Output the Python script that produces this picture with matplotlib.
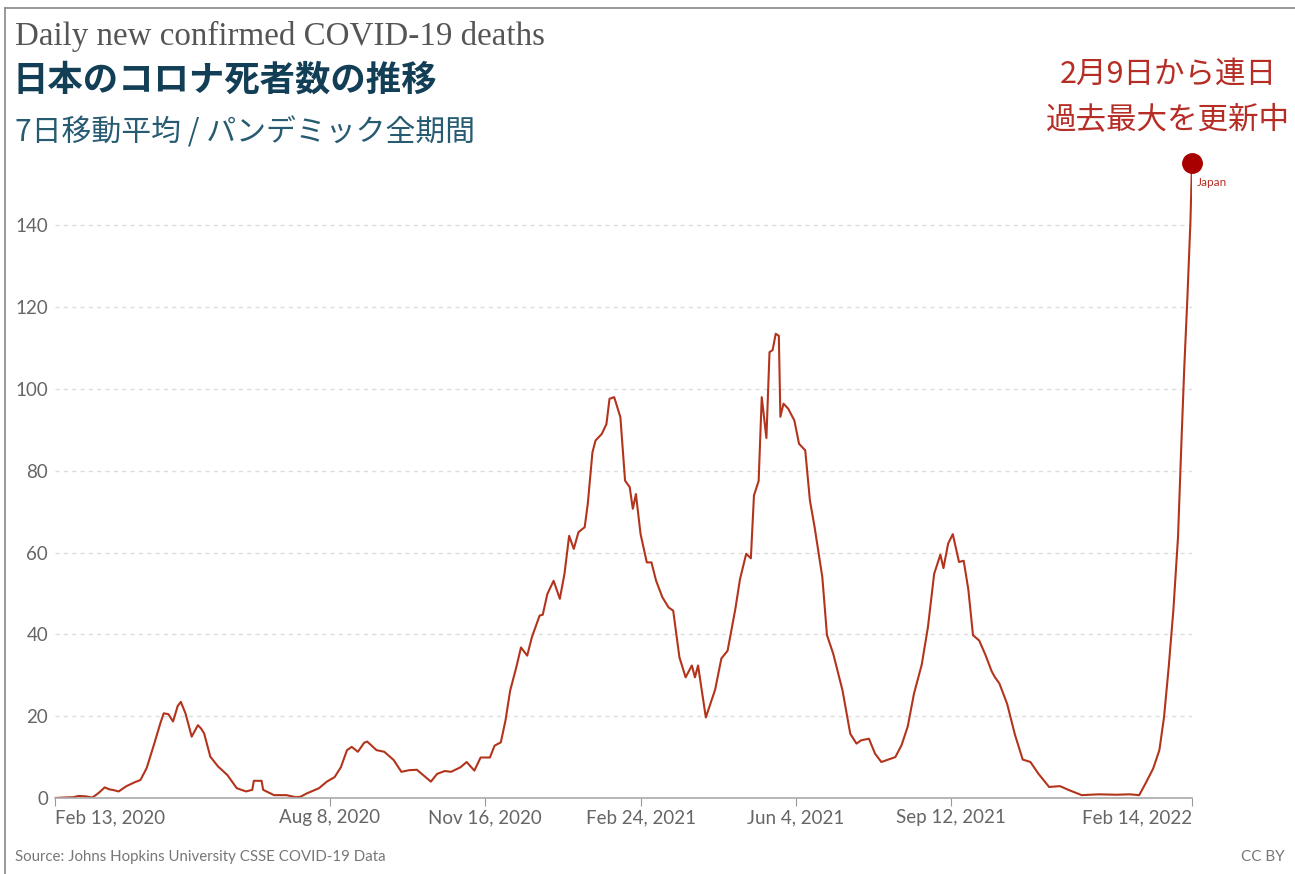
import numpy as np
import matplotlib.pyplot as plt
from matplotlib.lines import Line2D

# days since Feb 13, 2020 and 7-day average daily deaths
start = np.datetime64('2020-02-13')
days = [0, 5, 12, 15, 20, 24, 28, 32, 35, 37, 41, 46, 51, 55, 59, 64, 68, 70, 73, 76,
        79, 81, 84, 88, 92, 94, 96, 100, 105, 111, 117, 123, 127, 128, 133, 134, 141, 149,
        155, 158, 162, 170, 175, 180, 184, 188, 191, 195, 199, 201, 207, 212, 218, 223, 228,
        233, 237, 242, 246, 251, 255, 261, 265, 270, 274, 280, 283, 287, 290, 293, 297, 300,
        304, 307, 312, 314, 317, 321, 325, 328, 331, 334, 337, 341, 343, 346, 348, 352, 355,
        357, 360, 364, 367, 370, 372, 374, 377, 381, 384, 387, 391, 395, 398, 402, 406, 410,
        412, 414, 419, 425, 429, 433, 438, 441, 445, 448, 450, 453, 455, 458, 460, 462, 464,
        466, 467, 469, 472, 476, 479, 483, 486, 489, 494, 497, 501, 507, 512, 516, 519, 524,
        528, 532, 538, 541, 545, 549, 553, 558, 562, 566, 570, 572, 575, 578, 582, 585, 588,
        591, 595, 599, 603, 605, 608, 613, 618, 623, 628, 633, 640, 647, 653, 661, 672, 683,
        692, 698, 702, 707, 711, 714, 717, 720, 723, 725, 727, 729, 731, 732]
deaths = [0.0, 0.1, 0.2, 0.5, 0.4, 0.1, 1.2, 2.6, 2.1, 2.0, 1.6, 2.9, 3.8, 4.4, 7.3, 13.4,
          18.5, 20.7, 20.5, 18.7, 22.5, 23.5, 20.7, 15.0, 17.8, 17.0, 15.8, 10.1, 7.7, 5.6,
          2.4, 1.6, 2.0, 4.2, 4.2, 2.0, 0.7, 0.7, 0.2, 0.3, 1.1, 2.4, 4.0, 5.1, 7.5, 11.7,
          12.5, 11.3, 13.5, 13.8, 11.7, 11.3, 9.3, 6.4, 6.8, 6.9, 5.6, 4.0, 5.9, 6.6, 6.4,
          7.5, 8.8, 6.7, 9.9, 9.9, 12.8, 13.6, 18.9, 26.2, 32.0, 36.8, 34.8, 39.3, 44.6,
          44.8, 49.9, 53.1, 48.7, 54.8, 64.1, 60.9, 65.0, 66.2, 71.9, 84.5, 87.4, 89.0,
          91.4, 97.6, 98.0, 93.1, 77.6, 76.0, 70.7, 74.3, 64.5, 57.6, 57.6, 53.1, 49.1,
          46.6, 45.8, 34.4, 29.5, 32.4, 29.5, 32.4, 19.7, 26.5, 34.1, 36.0, 46.2, 53.5,
          59.7, 58.6, 74.0, 77.5, 98.0, 88.0, 109.0, 109.5, 113.5, 113.0, 93.2, 96.4, 95.2,
          92.3, 86.6, 85.0, 72.8, 66.3, 54.0, 39.8, 35.3, 26.3, 15.7, 13.3, 14.1, 14.5,
          10.8, 8.8, 9.6, 10.0, 12.9, 17.5, 25.5, 32.6, 41.8, 54.8, 59.5, 56.2, 62.2, 64.5,
          57.7, 58.0, 51.0, 39.8, 38.5, 35.0, 31.0, 29.6, 28.0, 23.0, 15.5, 9.4, 8.8, 6.0,
          2.7, 2.9, 1.9, 0.7, 0.9, 0.8, 0.9, 0.7, 3.5, 7.2, 11.7, 19.8, 32.0, 45.9, 63.8,
          85.0, 105.0, 122.0, 141.0, 155.2]

tick_dates = ['2020-02-13', '2020-08-08', '2020-11-16', '2021-02-24',
              '2021-06-04', '2021-09-12', '2022-02-14']
tick_labels = ['Feb 13, 2020', 'Aug 8, 2020', 'Nov 16, 2020', 'Feb 24, 2021',
               'Jun 4, 2021', 'Sep 12, 2021', 'Feb 14, 2022']
y_ticks = [0, 20, 40, 60, 80, 100, 120, 140]

W, H = 1295, 874
dates = start + np.array(days).astype('timedelta64[D]')

line_color = '#b3341c'
red = '#b52d25'

fig = plt.figure(figsize=(W / 100, H / 100), dpi=100)
ax = fig.add_axes([55 / W, 1 - 798 / H, (1192 - 55) / W, (798 - 164) / H])

ax.plot(dates, deaths, color=line_color, lw=1.5)
ax.plot(dates[-1], deaths[-1], 'o', ms=14, color='#a80000', clip_on=False, zorder=5)

ax.set_xlim(dates[0], dates[-1])
ax.set_ylim(0, 155)

ax.set_yticks(y_ticks)
ax.set_yticklabels([str(v) for v in y_ticks], fontfamily='Lato', fontsize=13.5, color='#666666')
ax.set_xticks(np.array(tick_dates, dtype='datetime64[D]'))
ax.set_xticklabels(tick_labels, fontfamily='Lato', fontsize=13.5, color='#666666')
xl = ax.get_xticklabels()
xl[0].set_ha('left')
xl[-1].set_ha('right')

ax.tick_params(axis='y', length=0, pad=5)
ax.tick_params(axis='x', length=6, color='#999999', pad=2)
for s in ['left', 'right', 'top']:
    ax.spines[s].set_visible(False)
ax.spines['bottom'].set_color('#aaaaaa')
ax.spines['bottom'].set_linewidth(1.2)
ax.grid(axis='y', linestyle=(0, (3, 3)), color='#dddddd', lw=1)
ax.set_axisbelow(True)

# texts
def ftext(x, y, s, **kw):
    fig.text(x / W, 1 - y / H, s, **kw)

ftext(15, 36, 'Daily new confirmed COVID-19 deaths', fontfamily='Liberation Serif',
      fontsize=23.8, color='#555555', va='center')
ftext(13, 80, '日本のコロナ死者数の推移', fontfamily='Noto Sans CJK JP', fontweight='bold',
      fontsize=25.5, color='#123f56', va='center')
ftext(15, 133, '7日移動平均 / パンデミック全期間', fontfamily='Noto Sans CJK JP',
      fontsize=21.5, color='#275b72', va='center')
ftext(1168, 74, '2月9日から連日', fontfamily='Noto Sans CJK JP', fontsize=22,
      color=red, ha='center', va='center')
ftext(1168, 120, '過去最大を更新中', fontfamily='Noto Sans CJK JP', fontsize=22,
      color=red, ha='center', va='center')
ftext(1197, 183, 'Japan', fontfamily='Lato', fontsize=8.5, color=red, va='center')
ftext(15, 857, 'Source: Johns Hopkins University CSSE COVID-19 Data', fontfamily='Lato',
      fontsize=10.8, color='#777777', va='center')
ftext(1285, 857, 'CC BY', fontfamily='Lato', fontsize=11, color='#777777', va='center', ha='right')

# frame lines of the card
fig.add_artist(Line2D([5 / W, 5 / W], [0, 1 - 8 / H], color='#888888', lw=1.2))
fig.add_artist(Line2D([5 / W, 1], [1 - 8 / H, 1 - 8 / H], color='#888888', lw=1.2))

plt.savefig('out.png', dpi=100)
